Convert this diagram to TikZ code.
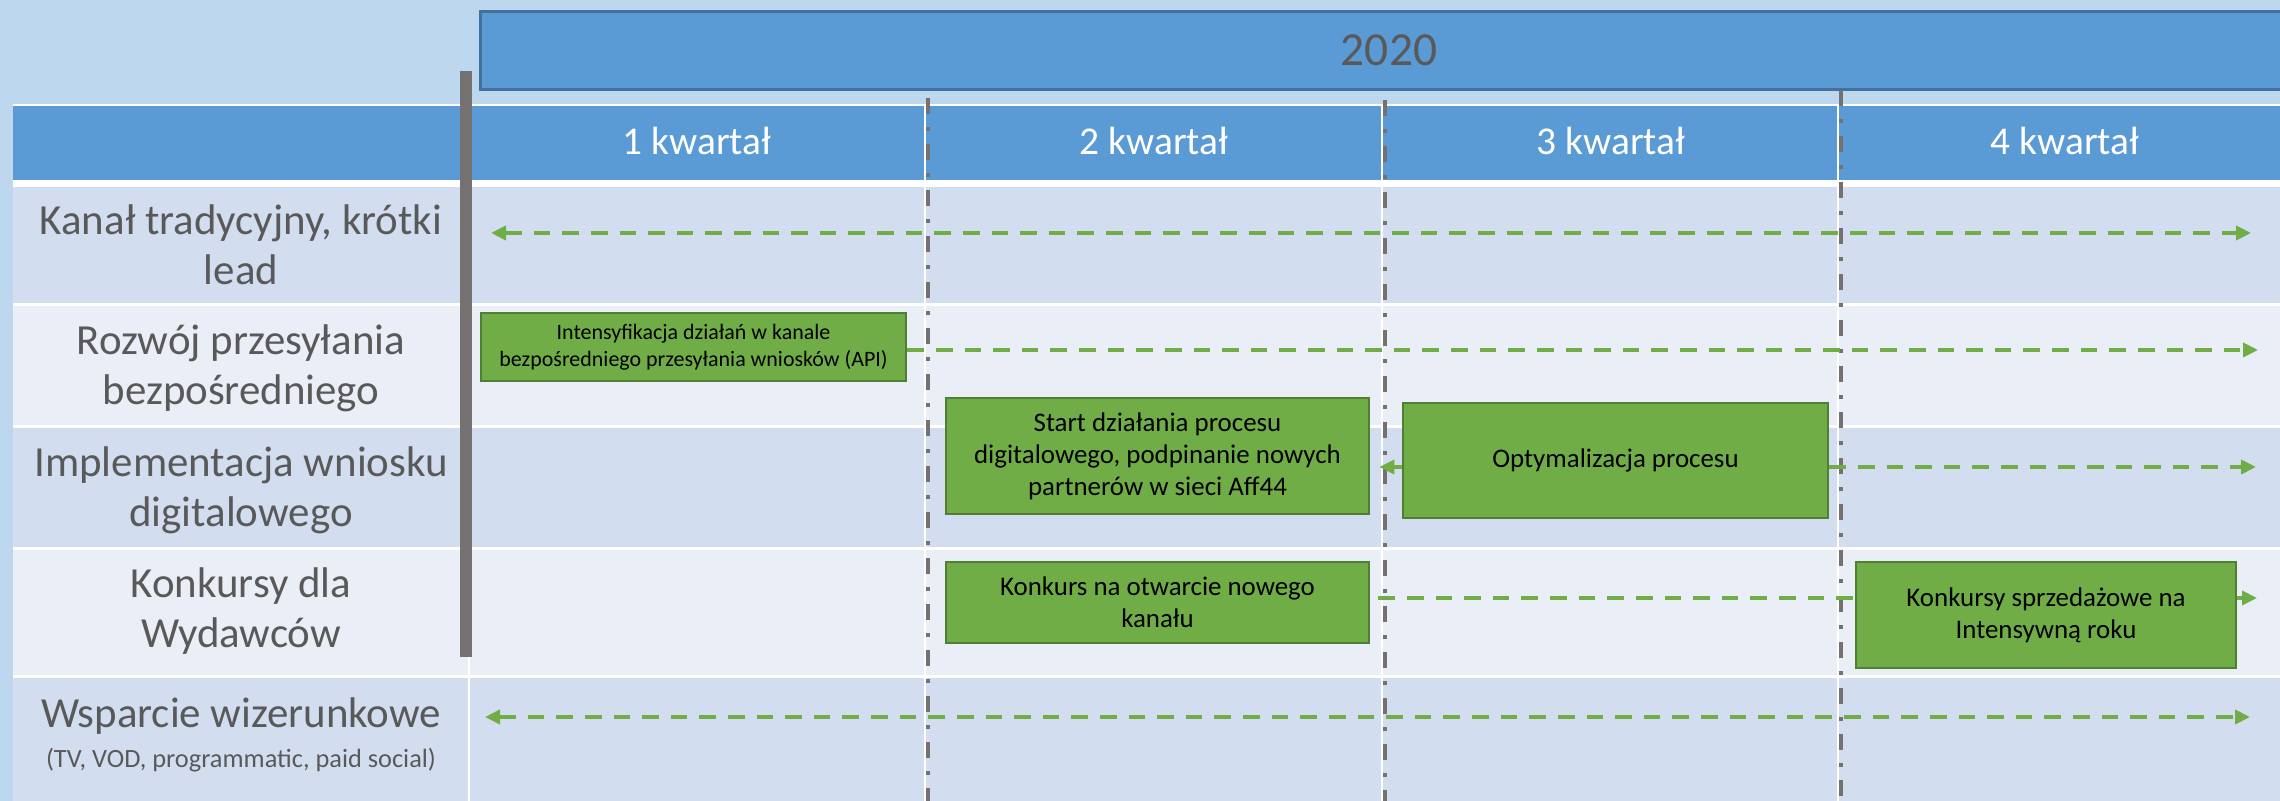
\documentclass[tikz,border=0pt]{standalone}
\usepackage{fontspec}
\setmainfont{Carlito}
\usetikzlibrary{arrows.meta}
\definecolor{bgblue}{HTML}{BDD7EE}
\definecolor{hdrblue}{HTML}{5B9BD5}
\definecolor{hdredge}{HTML}{41719C}
\definecolor{rowdark}{HTML}{D2DEEF}
\definecolor{rowlight}{HTML}{EAEFF7}
\definecolor{bargray}{HTML}{767171}
\definecolor{taskgreen}{HTML}{70AD47}
\definecolor{taskedge}{HTML}{507E32}
\definecolor{labelgray}{HTML}{595959}

\begin{document}
\begin{tikzpicture}[x=0.01cm,y=-0.01cm,
    task/.style={draw=taskedge,line width=0.025cm,fill=taskgreen,align=center,inner sep=0pt,font=\fontsize{7.65}{9.1}\selectfont},
    flow/.style={taskgreen,line width=0.04cm,dash pattern=on 0.166cm off 0.12cm},
    tip/.style={-{Triangle[length=0.15cm,width=0.14cm]}},
    bothtips/.style={{Triangle[length=0.15cm,width=0.14cm]}-{Triangle[length=0.15cm,width=0.14cm]}},
    quarter/.style={bargray,line width=0.045cm,dash pattern=on 0.16cm off 0.13cm on 0.04cm off 0.13cm},
    rowlabel/.style={labelgray,align=center,font=\fontsize{12.2}{14.2}\selectfont}]
    \useasboundingbox (0,0) rectangle (2280,801);
    \clip (0,0) rectangle (2280,801);

    \fill[bgblue] (0,0) rectangle (2280,801);
    \fill[white] (13,104) rectangle (2300,801);
    \fill[hdrblue] (13,106) rectangle (2300,180);
    \foreach \top/\bot/\col in {187/303/rowdark,306/425/rowlight,428/547/rowdark,550/675/rowlight,678/801/rowdark}
        \fill[\col] (13,\top) rectangle (2300,\bot);
    \foreach \x in {469,925,1382,1838}
        \draw[white,line width=0.02cm] (\x,106) -- (\x,801);

    \node[draw=hdredge,fill=hdrblue,line width=0.03cm,minimum width=18.16cm,minimum height=0.77cm,
        text=labelgray,font=\fontsize{13.5}{16}\selectfont] (year) at (1389,50.5) {2020};
    \foreach \q/\x in {1/697,2/1154,3/1611,4/2065}
        \node[white,font=\fontsize{11.2}{13}\selectfont] (q\q) at (\x,141) {\q\ kwartał};

    \foreach \x/\y in {928/98,1385/100,1841/90}
        \draw[quarter] (\x,\y) -- (\x,801);
    \fill[bargray] (460,71) rectangle (472,657);

    \node[rowlabel] (lab1) at (241,245) {Kanał tradycyjny, krótki\\lead};
    \node[rowlabel] (lab2) at (241,368) {Rozwój przesyłania\\bezpośredniego};
    \node[rowlabel] (lab3) at (241,490) {Implementacja wniosku\\digitalowego};
    \node[rowlabel] (lab4) at (241,611) {Konkursy dla\\Wydawców};
    \node[rowlabel] (lab5) at (241,735) {Wsparcie wizerunkowe\\[-2.8pt]{\fontsize{7.5}{9}\selectfont (TV, VOD, programmatic, paid social)}};

    \node[task,minimum width=4.25cm,minimum height=0.68cm,font=\fontsize{6.25}{7.7}\selectfont] (api) at (693.5,347)
        {Intensyfikacja działań w kanale\\bezpośredniego przesyłania wniosków (API)};
    \node[task,minimum width=4.23cm,minimum height=1.16cm] (digi) at (1157.5,456)
        {Start działania procesu\\digitalowego, podpinanie nowych\\partnerów w sieci Aff44};
    \node[task,minimum width=4.25cm,minimum height=1.15cm] (opt) at (1615.5,460.5) {Optymalizacja procesu};
    \node[task,minimum width=4.23cm,minimum height=0.81cm] (konk) at (1157.5,602.5) {Konkurs na otwarcie nowego\\kanału};

    \coordinate (s1) at (491,233);
    \coordinate (e1) at (2251,233);
    \coordinate (e2) at (2258,350);
    \coordinate (e3) at (2256,467);
    \coordinate (e4) at (2257,598);
    \coordinate (s5) at (485,717);
    \coordinate (e5) at (2250,717);

    \draw[flow,bothtips] (s1) -- (e1);
    \draw[flow,tip] (api.east |- e2) -- (e2);
    \draw[flow,tip] (opt.east |- e3) -- (e3);
    \draw[flow,tip,shorten >=0.09cm] (opt.west |- e3) -- (digi.east |- e3);
    \draw[flow,tip,shorten <=0.08cm] (konk.east |- e4) -- (e4);
    \draw[flow,bothtips] (s5) -- (e5);

    \node[task,minimum width=3.80cm,minimum height=1.06cm] (sprz) at (2046,615) {Konkursy sprzedażowe na\\Intensywną roku};
\end{tikzpicture}
\end{document}
